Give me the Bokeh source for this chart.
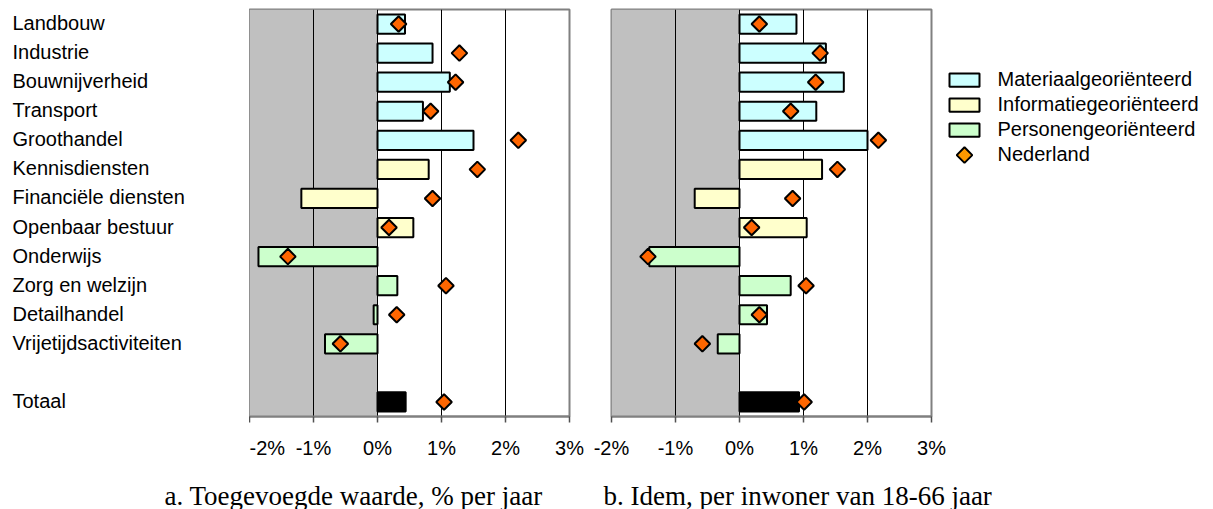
import math
from bokeh.plotting import figure
from bokeh.models import ColumnDataSource, FactorRange, Range1d, FixedTicker, BoxAnnotation
from bokeh.layouts import row, column
from bokeh.embed import file_html
from bokeh.resources import INLINE
from bokeh.core.properties import value

# ---------------- data ----------------
sectors = ["Landbouw", "Industrie", "Bouwnijverheid", "Transport", "Groothandel",
           "Kennisdiensten", "Financiële diensten", "Openbaar bestuur", "Onderwijs",
           "Zorg en welzijn", "Detailhandel", "Vrijetijdsactiviteiten", "Totaal"]
groups = (["Materiaalgeoriënteerd"] * 5 + ["Informatiegeoriënteerd"] * 3 +
          ["Personengeoriënteerd"] * 4 + ["Totaal"])

# panel a: toegevoegde waarde, % per jaar
growth_a = [0.43, 0.86, 1.13, 0.71, 1.50, 0.80, -1.19, 0.56, -1.86, 0.31, -0.06, -0.82, 0.44]
nl_a = [0.33, 1.28, 1.22, 0.83, 2.20, 1.56, 0.86, 0.18, -1.40, 1.07, 0.30, -0.58, 1.04]
# panel b: per inwoner van 18-66 jaar
growth_b = [0.89, 1.35, 1.63, 1.20, 2.00, 1.29, -0.70, 1.05, -1.41, 0.80, 0.43, -0.34, 0.93]
nl_b = [0.31, 1.26, 1.19, 0.80, 2.17, 1.53, 0.83, 0.19, -1.43, 1.04, 0.31, -0.58, 1.01]

tick_values = [-2, -1, 0, 1, 2, 3]
tick_labels = ["-2%", "-1%", "0%", "1%", "2%", "3%"]
legend_labels = ["Materiaalgeoriënteerd", "Informatiegeoriënteerd",
                 "Personengeoriënteerd", "Nederland"]
captions = ["a. Toegevoegde waarde, % per jaar", "b. Idem, per inwoner van 18-66 jaar"]

group_colors = {"Materiaalgeoriënteerd": "#CCFFFF",
                "Informatiegeoriënteerd": "#FFFFCC",
                "Personengeoriënteerd": "#CCFFCC",
                "Totaal": "#000000"}
NL_COLOR = "#FF6600"
NL_LEGEND_COLOR = "#FF9900"

# ---------------- layout ----------------
row_order = sectors[:-1] + [" "] + sectors[-1:]
factors = list(reversed(row_order))

SANS = "Liberation Sans"
SERIF = "Liberation Serif"
FS = "20px"
FRAME_W = 320
TOP, BOTTOM = 9, 45
ROW_H = 461
TOTAL_W = 1213


def panel(growth, nl, border_left, border_right):
    p = figure(x_range=Range1d(tick_values[0], tick_values[-1]),
               y_range=FactorRange(factors=factors),
               width=border_left + FRAME_W + border_right, height=ROW_H,
               min_border_left=border_left, min_border_right=border_right,
               min_border_top=TOP, min_border_bottom=BOTTOM,
               output_backend="svg", toolbar_location=None)
    p.outline_line_color = "#808080"
    p.outline_line_width = 2
    p.add_layout(BoxAnnotation(left=tick_values[0], right=0, fill_color="#C0C0C0",
                               fill_alpha=1, line_color=None, level="image"))
    src = ColumnDataSource(dict(y=sectors, v=growth, nl=nl,
                                c=[group_colors[g] for g in groups]))
    p.hbar(y="y", left=0, right="v", height=0.66, fill_color="c",
           line_color="black", line_width=2, source=src)
    p.scatter(x="nl", y="y", marker="square", angle=math.pi / 4, size=11,
              fill_color=NL_COLOR, line_color="black", line_width=2, source=src)

    p.yaxis.visible = False
    p.ygrid.visible = False
    p.xgrid.ticker = FixedTicker(ticks=tick_values[1:-1])
    p.xgrid.grid_line_color = "black"
    p.xgrid.grid_line_width = 1

    xa = p.xaxis[0]
    xa.ticker = FixedTicker(ticks=tick_values)
    xa.major_label_overrides = {t: l for t, l in zip(tick_values, tick_labels)}
    xa.axis_line_color = "#808080"
    xa.axis_line_width = 2
    xa.major_tick_line_color = "#505050"
    xa.major_tick_line_width = 1.5
    xa.major_tick_out = 6
    xa.major_tick_in = 0
    xa.minor_tick_line_color = None
    xa.major_label_standoff = 14
    xa.major_label_text_font = SANS
    xa.major_label_text_font_size = FS
    xa.major_label_text_color = "black"
    return p


def bare(width, height, x_range, y_range):
    f = figure(x_range=x_range, y_range=y_range, width=width, height=height,
               min_border=0, output_backend="svg", toolbar_location=None)
    f.axis.visible = False
    f.grid.visible = False
    f.outline_line_color = None
    return f


# sector labels column (left aligned)
LBL_W = 249
lf = figure(x_range=Range1d(0, LBL_W), y_range=FactorRange(factors=factors),
            width=LBL_W, height=ROW_H, min_border_left=0, min_border_right=0,
            min_border_top=TOP, min_border_bottom=BOTTOM,
            output_backend="svg", toolbar_location=None)
lf.axis.visible = False
lf.grid.visible = False
lf.outline_line_color = None
lf.text(x=[0] * len(sectors), y=sectors, text=sectors, x_offset=12, y_offset=-1,
        text_font=value(SANS), text_font_size=FS, text_baseline="middle",
        text_align="left", text_color="black")

pa = panel(growth_a, nl_a, 0, 21)
pb = panel(growth_b, nl_b, 21, 16)

# legend (its own small pixel-space figure)
LEG_W = TOTAL_W - LBL_W - pa.width - pb.width
lg = bare(LEG_W, ROW_H, Range1d(0, LEG_W), Range1d(ROW_H, 0))
leg_y0, leg_step = 80, 28.3
leg_y = [leg_y0 + i * leg_step for i in range(len(legend_labels))]
sw_x = 17   # swatch centre (pixels from legend-figure left)
lg.rect(x=[sw_x] * 3, y=leg_y[:3], width=30, height=15,
        fill_color=[group_colors[g] for g in legend_labels[:3]],
        line_color="black", line_width=2)
lg.scatter(x=[sw_x], y=leg_y[3:], marker="square", angle=math.pi / 4, size=11,
           fill_color=NL_LEGEND_COLOR, line_color="black", line_width=2)
lg.text(x=[50] * len(legend_labels), y=leg_y, text=legend_labels, y_offset=-1,
        text_font=value(SANS), text_font_size=FS, text_baseline="middle",
        text_align="left", text_color="black")

# captions
CAP_H = 48
cf = bare(TOTAL_W, CAP_H, Range1d(0, TOTAL_W), Range1d(0, CAP_H))
cf.text(x=[164, 603], y=[14, 14], text=captions, text_font=value(SERIF),
        text_font_size="27px", text_baseline="alphabetic", text_align="left",
        text_color="black")

layout = column(row(lf, pa, pb, lg), cf)
open("out.html", "w").write(file_html(layout, INLINE))
